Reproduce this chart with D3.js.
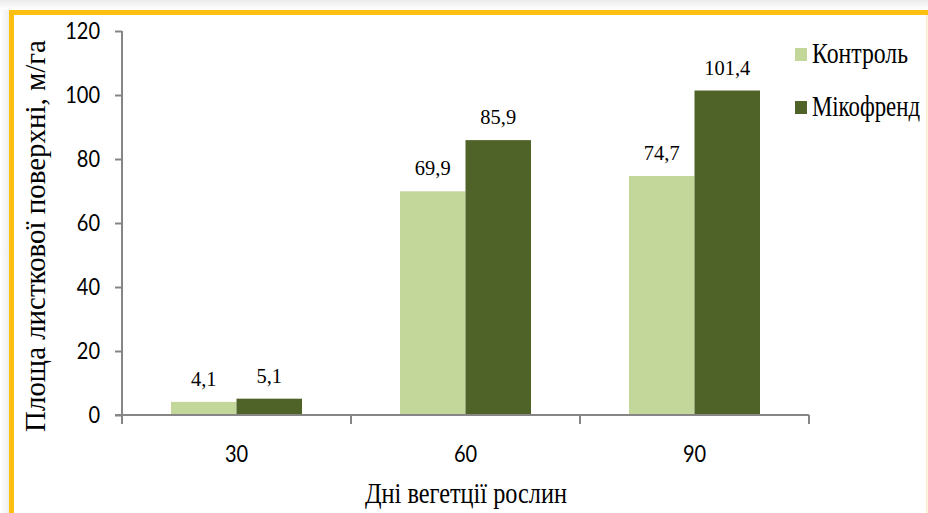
<!DOCTYPE html>
<html>
<head>
<meta charset="utf-8">
<script src="https://cdn.jsdelivr.net/npm/d3@7"></script>
<style>
  html, body { margin: 0; padding: 0; background: #ffffff; }
  svg { display: block; }
</style>
</head>
<body>
<svg id="chart" width="928" height="513"></svg>
<script>
// Leaf area by days of vegetation, two treatments
const days = ["30", "60", "90"];
const seriesNames = ["Контроль", "Мікофренд"];
const control = [4.1, 69.9, 74.7];
const mycofriend = [5.1, 85.9, 101.4];
const yTicks = [0, 20, 40, 60, 80, 100, 120];
const colors = ["#c4d79b", "#4f6228"];

const svg = d3.select("#chart");
const W = 928, H = 513;
const serif = "'Liberation Serif', 'Times New Roman', serif";
const sans = "Lato, 'Open Sans', sans-serif";

// frame: soft shadow above and left, orange border
const defs = svg.append("defs");
const gTop = defs.append("linearGradient").attr("id", "shTop").attr("x1", 0).attr("x2", 0).attr("y1", 0).attr("y2", 1);
gTop.append("stop").attr("offset", 0).attr("stop-color", "#ececec");
gTop.append("stop").attr("offset", 1).attr("stop-color", "#ffffff");
const gLeft = defs.append("linearGradient").attr("id", "shLeft").attr("x1", 0).attr("x2", 1).attr("y1", 0).attr("y2", 0);
gLeft.append("stop").attr("offset", 0).attr("stop-color", "#ffffff");
gLeft.append("stop").attr("offset", 1).attr("stop-color", "#eeeeee");
svg.append("rect").attr("x", 0).attr("y", 0).attr("width", W).attr("height", 10).attr("fill", "url(#shTop)");
svg.append("rect").attr("x", 0).attr("y", 10).attr("width", 9).attr("height", H - 10).attr("fill", "url(#shLeft)");
svg.append("rect").attr("x", 9).attr("y", 10).attr("width", W - 9).attr("height", 5).attr("fill", "#fcc010");
svg.append("rect").attr("x", 9).attr("y", 10).attr("width", 5).attr("height", H - 10).attr("fill", "#fcc010");
svg.append("rect").attr("x", 926).attr("y", 15).attr("width", 1.5).attr("height", H - 15).attr("fill", "#fcebc4");

// scales
const x0 = d3.scaleBand().domain(days).range([122, 809]).paddingInner(0).paddingOuter(0);
const x1 = d3.scaleBand().domain(seriesNames).range([49, x0.bandwidth() - 49]).padding(0);
const y = d3.scaleLinear().domain([0, 120]).range([415, 31]);

// helper: text squeezed horizontally by a fixed factor
function label(g, x, yPos, str, opts) {
  return g.append("text")
    .attr("transform", `translate(${x},${yPos}) scale(${opts.sx || 1},1)`)
    .attr("text-anchor", opts.anchor || "middle")
    .attr("font-family", opts.family)
    .attr("font-size", opts.size)
    .attr("fill", opts.fill || "#000")
    .text(str);
}

// helper: text squeezed to a given run length, with optional rotation
function fitted(g, x, yPos, str, width, opts) {
  const t = g.append("text")
    .attr("text-anchor", opts.anchor || "middle")
    .attr("font-family", opts.family)
    .attr("font-size", opts.size)
    .attr("fill", "#000")
    .text(str);
  const natural = t.node().getComputedTextLength();
  const s = width / natural;
  t.attr("transform", `translate(${x},${yPos}) rotate(${opts.rotate || 0}) scale(${s},1)`);
  return t;
}

// bars
const rows = days.map((d, i) => ({ day: d, values: [control[i], mycofriend[i]] }));
const groups = svg.append("g").selectAll("g").data(rows).join("g")
  .attr("transform", d => `translate(${x0(d.day)},0)`);
groups.selectAll("rect").data(d => d.values.map((v, j) => ({ name: seriesNames[j], v, j })))
  .join("rect")
  .attr("x", d => x1(d.name))
  .attr("y", d => y(d.v))
  .attr("width", x1.bandwidth())
  .attr("height", d => y(0) - y(d.v))
  .attr("fill", d => colors[d.j]);

// value labels
groups.each(function(d) {
  const g = d3.select(this);
  d.values.forEach((v, j) => {
    label(g, x1(seriesNames[j]) + x1.bandwidth() / 2, y(v) - 16,
      String(v).replace(".", ","), { family: serif, size: 22, sx: 0.93 });
  });
});

// y axis
const yAxis = svg.append("g").attr("transform", "translate(122,0)")
  .call(d3.axisLeft(y).tickValues(yTicks).tickSize(7).tickPadding(0).tickFormat(() => ""));
yAxis.select(".domain").attr("stroke", "#868686").attr("stroke-width", 2).attr("d", `M0,${y(120)}V${y(0)}`);
yAxis.selectAll(".tick line").attr("stroke", "#868686").attr("stroke-width", 2);
yTicks.forEach(t => {
  label(svg, 100, y(t) + 8, String(t), { family: sans, size: 23, sx: 0.87, anchor: "end" });
});

// x axis with boundary ticks
const xAxis = svg.append("g").attr("transform", `translate(0,${y(0)})`);
xAxis.append("line").attr("x1", 115).attr("x2", 809).attr("y1", 0).attr("y2", 0)
  .attr("stroke", "#868686").attr("stroke-width", 2);
const bounds = days.map(d => x0(d)).concat([x0(days[days.length - 1]) + x0.bandwidth()]);
xAxis.selectAll("line.b").data(bounds).join("line").attr("class", "b")
  .attr("x1", d => d).attr("x2", d => d).attr("y1", 0).attr("y2", 9)
  .attr("stroke", "#868686").attr("stroke-width", 2);
days.forEach(d => {
  label(svg, x0(d) + x0.bandwidth() / 2, 462, d, { family: sans, size: 23, sx: 0.87 });
});

// axis titles
fitted(svg, 466, 503, "Дні вегетції рослин", 202, { family: serif, size: 29 });
fitted(svg, 45, 236, "Площа листкової поверхні, м/га", 392, { family: serif, size: 30, rotate: -90 });

// legend
const legend = svg.append("g");
const legendW = [96, 108];
seriesNames.forEach((n, i) => {
  const ly = 55 + i * 53;
  legend.append("rect").attr("x", 795).attr("y", ly - 7).attr("width", 12).attr("height", 13).attr("fill", colors[i]);
  fitted(legend, 812, ly + 8, n, legendW[i], { family: serif, size: 29, anchor: "start" });
});
</script>
</body>
</html>
